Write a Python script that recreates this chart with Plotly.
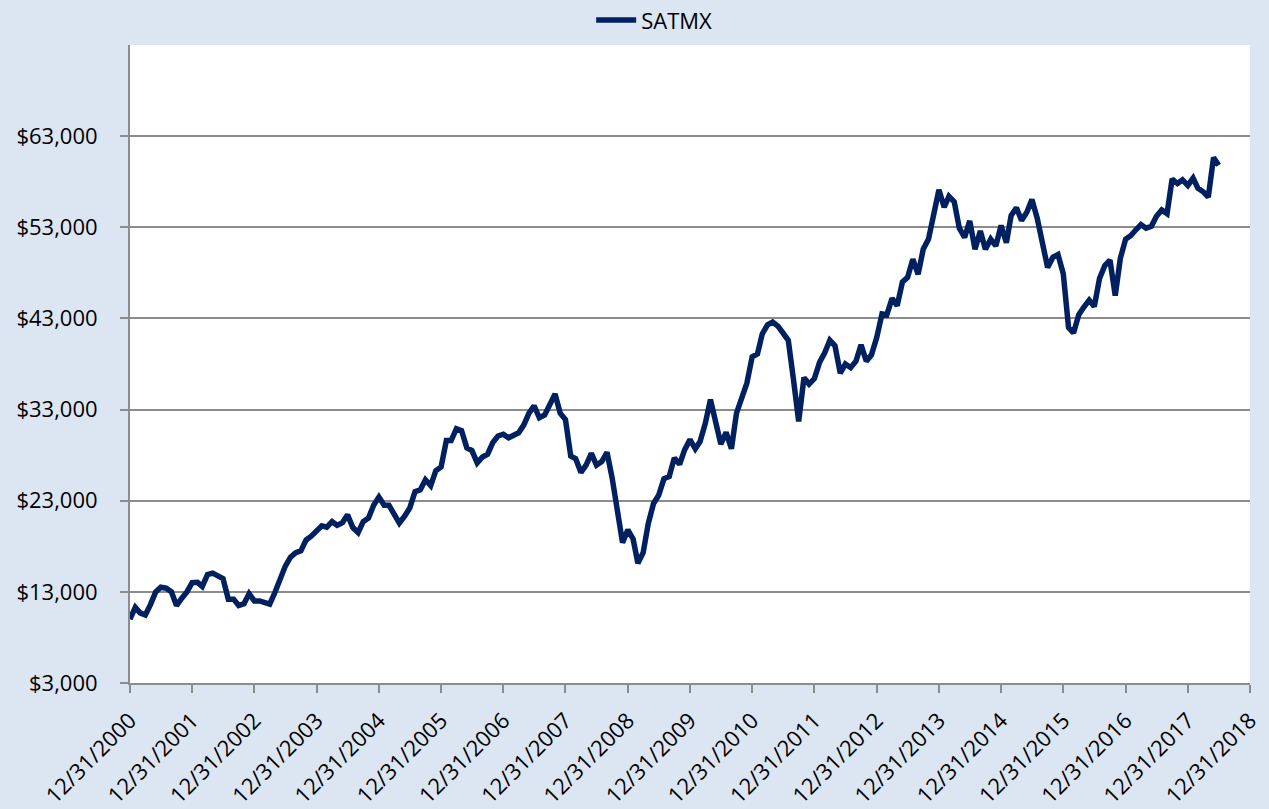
import pandas as pd
import plotly.graph_objects as go

series_name = "SATMX"
start_month = "2000-12-31"

# Month-end values, Dec 2000 .. Jun 2018
values = [
    10000, 11300, 10700, 10470, 11600, 13000, 13500, 13400, 13000, 11500, 12300, 13000,
    14000, 14050, 13600, 14900, 15050, 14700, 14450, 12200, 12200, 11500, 11700, 12800,
    12000, 12000, 11900, 11650, 12900, 14600, 15800, 16800, 17300, 17500, 18700, 19100,
    19700, 20250, 20100, 20700, 20300, 20600, 21450, 20050, 19500, 20700, 21100, 22500,
    23400, 22500, 22500, 21500, 20550, 21300, 22200, 24000, 24200, 25300, 24650, 26300,
    26700, 29600, 29600, 30900, 30700, 28800, 28500, 27150, 27800, 28100, 29400, 30100,
    30300, 29900, 30200, 30450, 31300, 32600, 33400, 32100, 32400, 33500, 34700, 32600,
    31900, 27900, 27600, 26100, 26900, 28200, 26900, 27300, 28300, 25500, 21500, 18400,
    19800, 18800, 16150, 17300, 20500, 22700, 23600, 25400, 25650, 27700, 27000, 28600,
    29700, 28700, 29500, 31500, 34100, 31500, 29200, 30500, 28700, 32600, 34500, 35900,
    38800, 39100, 41300, 42300, 42600, 42150, 41400, 40600, 36200, 31700, 36500, 35800,
    36400, 38200, 39200, 40600, 40000, 37000, 38000, 37600, 38300, 40100, 38300, 39000,
    40900, 43500, 43400, 45200, 44400, 47000, 47500, 49500, 47850, 50600, 51700, 54300,
    57100, 55200, 56400, 55800, 52900, 51900, 53700, 50600, 52600, 50600, 51700, 50950,
    53200, 51300, 54300, 55150, 53750, 54650, 56050, 54000, 51300, 48600, 49700, 50000,
    47900, 42000, 41400, 43400, 44250, 45000, 44300, 47400, 48800, 49400, 45500, 49600,
    51700, 52100, 52700, 53300, 52900, 53100, 54200, 54900, 54500, 58300, 57800, 58200,
    57600, 58400, 57300, 56900, 56300, 60650, 59800,
]

dates = pd.date_range(start=start_month, periods=len(values), freq=pd.offsets.MonthEnd())

x_tick_dates = [f"{y}-12-31" for y in range(2000, 2019)]
x_tick_labels = [f"12/31/{y}" for y in range(2000, 2019)]
y_tick_vals = [3000, 13000, 23000, 33000, 43000, 53000, 63000]
y_tick_labels = [f"${v:,}" for v in y_tick_vals]

font_family = "'Open Sans', 'Noto Sans', sans-serif"
grid_color = "#8c8c8c"

fig = go.Figure()
fig.add_trace(go.Scatter(
    x=dates, y=values, mode="lines", name=series_name,
    line=dict(color="#002060", width=5.5),
    showlegend=True,
))

fig.update_layout(
    width=1269, height=809,
    paper_bgcolor="#dce6f2",
    plot_bgcolor="#ffffff",
    margin=dict(l=130, r=19, t=45, b=126, autoexpand=False),
    font=dict(family=font_family, size=22, color="#000000"),
    showlegend=True,
    legend=dict(
        orientation="h", x=0.468, xanchor="center",
        yref="container", y=0.975, yanchor="middle",
        bgcolor="rgba(0,0,0,0)", font=dict(size=22),
        itemwidth=40,
    ),
    xaxis=dict(
        type="date", automargin=False,
        range=[x_tick_dates[0], x_tick_dates[-1]],
        tickmode="array", tickvals=x_tick_dates, ticktext=x_tick_labels,
        tickangle=-45,
        showgrid=False, zeroline=False,
        showline=True, linecolor=grid_color, linewidth=2,
        ticks="outside", ticklen=8, tickwidth=2, tickcolor=grid_color,
        ticklabelstandoff=6,
        tickfont=dict(size=22),
    ),
    yaxis=dict(
        automargin=False,
        range=[3000, 73000],
        tickmode="array", tickvals=y_tick_vals, ticktext=y_tick_labels,
        showgrid=True, gridcolor=grid_color, gridwidth=2,
        zeroline=False,
        showline=True, linecolor=grid_color, linewidth=2,
        ticks="outside", ticklen=8, tickwidth=2, tickcolor=grid_color,
        ticklabelstandoff=18,
        tickfont=dict(size=22),
    ),
)

fig.write_html(
    "out.html",
    config={"displayModeBar": False},
    post_script="document.body.style.margin='0';document.body.style.overflow='hidden';",
)
